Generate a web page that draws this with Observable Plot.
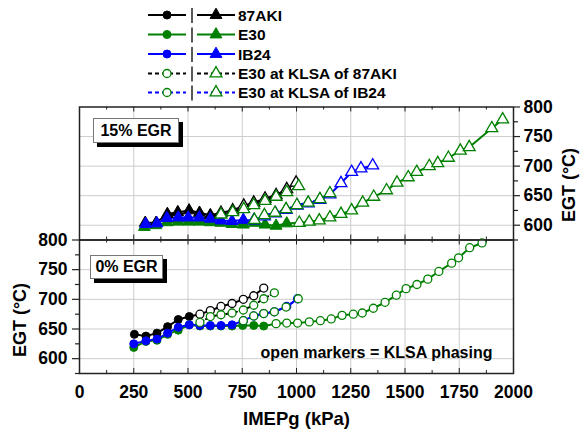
<!DOCTYPE html>
<html><head><meta charset="utf-8">
<script src="https://cdn.jsdelivr.net/npm/d3@7"></script>
<script src="https://cdn.jsdelivr.net/npm/@observablehq/plot@0.6"></script>
<style>
body{margin:0;background:#fff;}
#chart{position:relative;width:580px;height:436px;font-family:"Liberation Sans",Arial,sans-serif;font-weight:bold;overflow:hidden;background:#fff;}
#chart svg{position:absolute;left:0;}
.tag{position:absolute;background:#fff;border:1px solid #777;box-shadow:4px 4px 0 #000;font-size:16px;font-weight:bold;display:flex;align-items:center;justify-content:center;box-sizing:border-box;color:#000;}
.ytitle{position:absolute;font-size:18px;font-weight:bold;color:#000;white-space:nowrap;line-height:20px;transform:translate(-50%,-50%) rotate(-90deg);}
</style></head>
<body><div id="chart"></div>
<script>
// ---- axis ticks ----
const xMajor = [0,250,500,750,1000,1250,1500,1750,2000];
const xMinor = [125,375,625,875,1125,1375,1625,1875];
const yMajor = [600,650,700,750,800];
const yMinor = [575,625,675,725,775];
const yGrid = [600,650,700,750];

// ---- legend ----
const legendNames = ["87AKI","E30","IB24","E30 at KLSA of 87AKI","E30 at KLSA of IB24"];

// ---- 15% EGR (top panel) ----
const t87_x = [303,353,405,453,505,553,603,652,706,757,803,855,906,955,998];
const t87_y = [604,604,619,622,625,621,617,621,625,633,638,645,651,661,672];
const t87_filled = 7;
const tE30_x = [299,352,405,455,505,553,603,652,703,755,806,855,906,955,1013,1059,1105,1154,1205,1254,1305,1356,1415,1463,1515,1554,1612,1651,1700,1755,1796,1900,1950];
const tE30_y = [597,600,605,606,606,606,605,604,602,601,604,601,599,603,604,606,608,613,619,625,638,648,659,672,681,690,700,705,714,726,732,764,779];
const tE30_filled = 14;
const tIB_x = [305,357,403,455,501,552,603,652,703,755,803,852,903,952,1003,1054,1108,1154,1205,1254,1297,1351];
const tIB_y = [602,603,612,613,613,613,611,608,607,609,608,615,620,626,633,637,643,652,671,690,696,701];
const tIB_filled = 10;
const tK87_x = [652,706,757,803,855,906,955,1010];
const tK87_y = [618,622,627,634,641,648,656,666];
const tKIB_x = [806,852,901,952,1002,1054,1108,1154];
const tKIB_y = [609,617,621,627,634,638,644,654];

// ---- 0% EGR (bottom panel) ----
const b87_x = [253,306,357,406,455,506,555,603,652,703,755,803,849];
const b87_y = [641,638,643,654,666,671,675,681,688,693,700,706,719];
const b87_filled = 6;
const bE30_x = [250,306,357,406,455,506,555,603,652,703,752,803,849,906,955,1005,1059,1110,1160,1210,1262,1303,1354,1408,1460,1505,1555,1605,1656,1715,1747,1798,1855];
const bE30_y = [619,629,631,641,648,657,655,655,655,655,656,656,655,659,660,660,662,664,667,673,675,677,685,695,707,718,725,734,747,761,770,787,795];
const bE30_filled = 13;
const bIB_x = [250,306,357,406,455,506,555,603,652,703,755,803,849,898,955,1005];
const bIB_y = [625,630,633,643,653,657,656,656,656,657,664,672,676,679,688,701];
const bIB_filled = 10;
const bK87_x = [555,603,652,703,755,803,849,898];
const bK87_y = [661,671,674,677,682,690,701,711];
const bKIB_x = [755,803,849,898,952,1008];
const bKIB_y = [664,672,676,679,687,701];

const BLACK = "#000000", GREEN = "#008000", BLUE = "#0000ff";
const FONT = "'Liberation Sans', Arial, sans-serif";
const R_TRI = 4.4, R_CIR = 4;

function pts(xs, ys, nFilled) {
  return xs.map((x, i) => ({x, y: ys[i], open: i >= nFilled}));
}
function seriesSet(p) {
  return [
    {data: pts(p[0][0], p[0][1], p[0][2]), line: BLACK, mark: BLACK, dash: false},
    {data: pts(p[1][0], p[1][1], p[1][2]), line: GREEN, mark: GREEN, dash: false},
    {data: pts(p[2][0], p[2][1], p[2][2]), line: BLUE, mark: BLUE, dash: false},
    {data: pts(p[3][0], p[3][1], 0), line: BLACK, mark: GREEN, dash: true},
    {data: pts(p[4][0], p[4][1], 0), line: BLUE, mark: GREEN, dash: true}
  ];
}

const topSeries = seriesSet([[t87_x,t87_y,t87_filled],[tE30_x,tE30_y,tE30_filled],[tIB_x,tIB_y,tIB_filled],[tK87_x,tK87_y],[tKIB_x,tKIB_y]]);
const botSeries = seriesSet([[b87_x,b87_y,b87_filled],[bE30_x,bE30_y,bE30_filled],[bIB_x,bIB_y,bIB_filled],[bK87_x,bK87_y],[bKIB_x,bKIB_y]]);

function panel({series, symbol, height, marginTop, marginBottom, yAnchor, xLabels, extra}) {
  const fh = height - marginTop - marginBottom;
  const inner = xMajor.slice(1, -1);
  const marks = [
    Plot.gridX(inner, {stroke: "#cccccc", strokeOpacity: 1, strokeWidth: 1}),
    Plot.gridY(yGrid, {stroke: "#cccccc", strokeOpacity: 1, strokeWidth: 1}),
  ];
  for (const s of series) {
    marks.push(Plot.line(s.data, {x: "x", y: "y", stroke: s.line, strokeWidth: 2,
      strokeDasharray: s.dash ? "4,3" : null}));
  }
  const r = symbol === "triangle" ? R_TRI : R_CIR;
  for (const s of series) {
    marks.push(Plot.dot(s.data.filter(d => !d.open), {x: "x", y: "y", symbol, r, fill: s.mark, stroke: s.mark, strokeWidth: 1}));
    marks.push(Plot.dot(s.data.filter(d => d.open), {x: "x", y: "y", symbol, r, fill: "white", stroke: s.mark, strokeWidth: 1.3}));
  }
  // inward x ticks at top and bottom edges
  marks.push(Plot.ruleX(inner, {x: d => d, insetTop: fh - 5, stroke: "#222"}));
  marks.push(Plot.ruleX(inner, {x: d => d, insetBottom: fh - 5, stroke: "#222"}));
  marks.push(Plot.ruleX(xMinor, {x: d => d, insetTop: fh - 3, stroke: "#222"}));
  marks.push(Plot.ruleX(xMinor, {x: d => d, insetBottom: fh - 3, stroke: "#222"}));
  // y axis
  marks.push(Plot.axisY(yMajor, {anchor: yAnchor, tickSize: yAnchor === "left" ? 7 : 6, tickPadding: yAnchor === "left" ? 5 : 4, label: null, stroke: "#222", strokeWidth: 1.2}));
  marks.push(Plot.axisY(yMinor, {anchor: yAnchor, tickSize: 4, fill: "none", label: null, stroke: "#222", strokeWidth: 1.2}));
  if (xLabels) marks.push(Plot.axisX(xMajor, {anchor: "bottom", tickSize: 0, tickPadding: 12, label: null, tickFormat: d => String(d)}));
  marks.push(Plot.frame({stroke: "#222", strokeWidth: 1.5}));
  marks.push(...extra);
  return Plot.plot({
    width: 580, height, marginTop, marginBottom, marginLeft: 79, marginRight: 67,
    x: {domain: [0, 2000], axis: null},
    y: {domain: [575, 800], axis: null},
    style: {background: "none", fontFamily: FONT, fontWeight: "bold", fontSize: "17.5px", color: "#000", overflow: "visible"},
    marks
  });
}

const topPlot = panel({
  series: topSeries, symbol: "triangle", height: 147, marginTop: 7.5, marginBottom: 6.5, yAnchor: "right", xLabels: false,
  extra: []
});
const botPlot = panel({
  series: botSeries, symbol: "circle", height: 206, marginTop: 9.5, marginBottom: 63, yAnchor: "left", xLabels: true,
  extra: [
    Plot.text(["IMEPg (kPa)"], {frameAnchor: "bottom", dy: 46, textAnchor: "middle", lineAnchor: "middle", fontSize: 18.5, fontWeight: "bold", fill: "#000"}),
    Plot.text(["open markers = KLSA phasing"], {frameAnchor: "bottom-right", dx: -21, dy: -21, textAnchor: "end", lineAnchor: "middle", fontSize: 16, fontWeight: "bold", fill: "#000"})
  ]
});

const chart = document.getElementById("chart");
topPlot.style.top = "99px";
botPlot.style.top = "230px";
chart.appendChild(topPlot);
chart.appendChild(botPlot);

// ---- legend ----
const leg = d3.create("svg").attr("width", 580).attr("height", 105).style("top", "0px")
  .style("font-family", FONT).style("font-weight", "bold");
const rowsY = [15, 34.5, 54, 73.5, 92.5];
const legStyles = [
  {line: BLACK, mark: BLACK, open: false, dash: false},
  {line: GREEN, mark: GREEN, open: false, dash: false},
  {line: BLUE, mark: BLUE, open: false, dash: false},
  {line: BLACK, mark: GREEN, open: true, dash: true},
  {line: BLUE, mark: GREEN, open: true, dash: true}
];
legendNames.forEach((name, i) => {
  const y = rowsY[i], st = legStyles[i];
  const g = leg.append("g");
  for (const [x1, x2] of [[148, 186], [197, 235]]) {
    g.append("line").attr("x1", x1).attr("x2", x2).attr("y1", y).attr("y2", y)
      .attr("stroke", st.line).attr("stroke-width", 2).attr("stroke-dasharray", st.dash ? "4,3" : null);
  }
  g.append("line").attr("x1", 192).attr("x2", 192).attr("y1", y - 7).attr("y2", y + 8).attr("stroke", "#000").attr("stroke-width", 1.3);
  g.append("circle").attr("cx", 167).attr("cy", y).attr("r", R_CIR)
    .attr("fill", st.open ? "white" : st.mark).attr("stroke", st.mark).attr("stroke-width", st.open ? 1.3 : 1);
  g.append("path").attr("d", d3.symbol(d3.symbolTriangle, R_TRI * R_TRI * Math.PI)()).attr("transform", `translate(216,${y})`)
    .attr("fill", st.open ? "white" : st.mark).attr("stroke", st.mark).attr("stroke-width", st.open ? 1.3 : 1);
  g.append("text").attr("x", 238).attr("y", y).attr("dy", "0.36em").attr("font-size", 15.5).attr("fill", "#000").text(name);
});
chart.appendChild(leg.node());

// ---- y axis titles (rotated) ----
for (const [cx, cy] of [[20, 320], [569, 185]]) {
  const d = document.createElement("div");
  d.className = "ytitle";
  d.style.left = cx + "px"; d.style.top = cy + "px";
  d.textContent = "EGT (°C)";
  chart.appendChild(d);
}

// ---- panel tags ----
for (const [txt, left, top, w, h] of [["15% EGR", 93, 118, 86, 25], ["0% EGR", 90, 255, 73, 24]]) {
  const d = document.createElement("div");
  d.className = "tag";
  d.style.left = left + "px"; d.style.top = top + "px"; d.style.width = w + "px"; d.style.height = h + "px";
  d.textContent = txt;
  chart.appendChild(d);
}
</script>
</body></html>
